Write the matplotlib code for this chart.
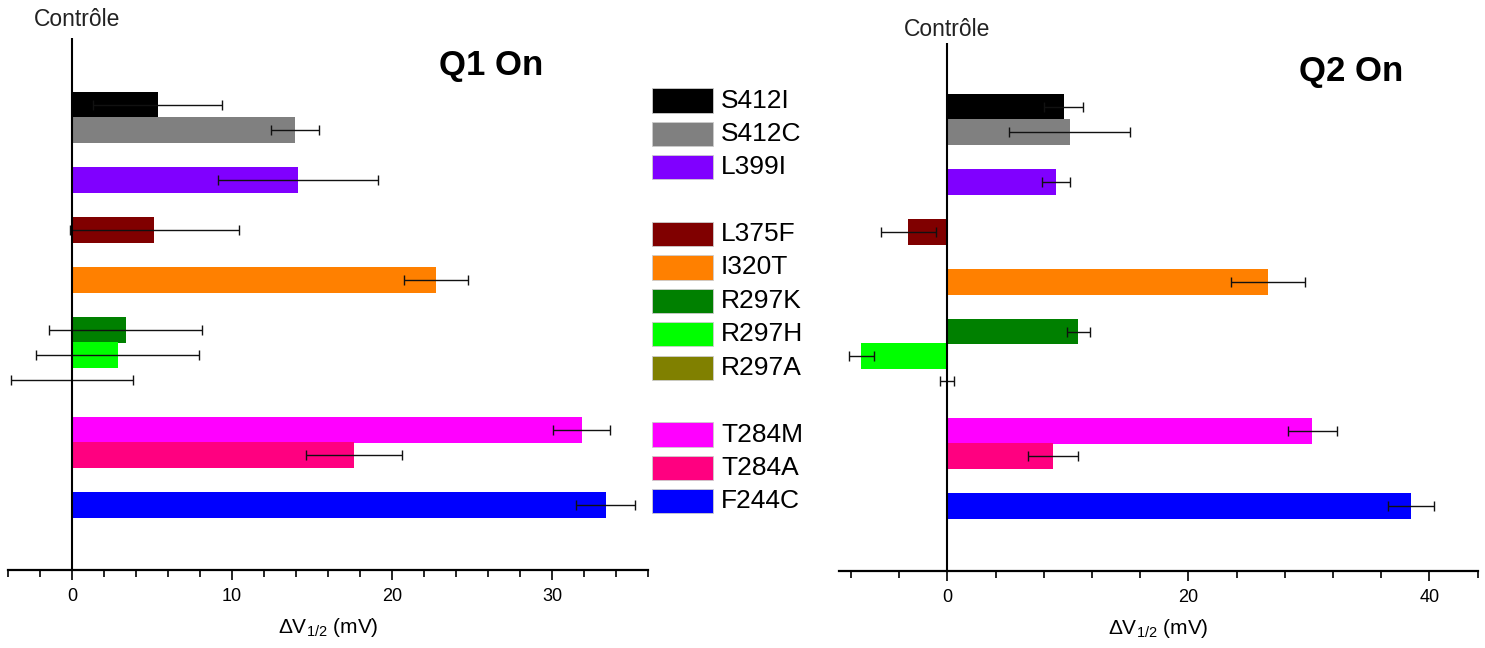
import numpy as np
import matplotlib
matplotlib.use('Agg')
import matplotlib.pyplot as plt
from matplotlib.ticker import MultipleLocator
from matplotlib.patches import Rectangle
import matplotlib.transforms as mtransforms

plt.rcParams['font.family'] = ['Liberation Sans', 'DejaVu Sans']
plt.rcParams['mathtext.fontset'] = 'custom'
plt.rcParams['mathtext.rm'] = 'Liberation Sans'
plt.rcParams['mathtext.default'] = 'regular'

# mutants, top to bottom
mutants = ['S412I', 'S412C', 'L399I', 'L375F', 'I320T', 'R297K', 'R297H',
           'R297A', 'T284M', 'T284A', 'F244C']
colors = ['#000000', '#808080', '#8000FF', '#800000', '#FF8000', '#008000',
          '#00FF00', '#808000', '#FF00FF', '#FF0080', '#0000FF']

# delta V1/2 (mV) and error
q1_values = [5.35, 13.95, 14.15, 5.15, 22.75, 3.35, 2.85, 0.0, 31.85, 17.65, 33.35]
q1_errors = [4.05, 1.5, 5.0, 5.3, 2.0, 4.8, 5.1, 3.8, 1.8, 3.0, 1.85]
q2_values = [9.65, 10.15, 9.0, -3.25, 26.6, 10.85, -7.15, -0.05, 30.3, 8.75, 38.5]
q2_errors = [1.6, 5.0, 1.15, 2.3, 3.1, 0.95, 1.05, 0.6, 2.0, 2.05, 1.9]

# how bars are grouped on the y axis, and how the legend is grouped
bar_groups = [2, 1, 1, 1, 3, 2, 1]
legend_groups = [3, 5, 3]


def slots(groups):
    pos = []
    n = 0
    for g in groups:
        for i in range(g):
            pos.append(n)
            n += 1
        n += 1
    return np.array(pos)


W, H = 1485, 648
fig = plt.figure(figsize=(W / 100, H / 100), dpi=100)

ax1 = fig.add_axes([8 / W, 1 - 570 / H, 640 / W, 532 / H])
ax2 = fig.add_axes([839 / W, 1 - 571 / H, 638.5 / W, 528 / H])

ypos = slots(bar_groups)


def draw_panel(ax, values, errors, xlim, major, minor, ylim, ctrl_x, ctrl_y):
    ax.barh(ypos, values, height=1.04, color=colors, edgecolor='none', zorder=2)
    ax.errorbar(values, ypos, xerr=errors, fmt='none', ecolor='#111111',
                elinewidth=1.0, capsize=3.4, capthick=1.0, zorder=3)
    ax.axvline(0, color='black', lw=1.5, zorder=4)
    ax.set_xlim(*xlim)
    ax.set_ylim(*ylim)
    for s in ['top', 'right', 'left']:
        ax.spines[s].set_visible(False)
    ax.spines['bottom'].set_linewidth(1.6)
    ax.set_yticks([])
    ax.xaxis.set_major_locator(MultipleLocator(major))
    ax.xaxis.set_minor_locator(MultipleLocator(minor))
    ax.tick_params(axis='x', which='major', length=7, width=1.2, labelsize=13,
                   pad=6, direction='out')
    ax.tick_params(axis='x', which='minor', length=5, width=1.2, direction='out')
    ax.set_xlabel('ΔV$_{1/2}$ (mV)', fontsize=15, labelpad=8)
    trans = mtransforms.blended_transform_factory(ax.transData, ax.transAxes)
    ax.text(ctrl_x, ctrl_y, 'Contrôle', transform=trans, ha='center', va='center',
            fontsize=16.5, color='#222222')


draw_panel(ax1, q1_values, q1_errors, (-4, 36), 10, 2, (18.6, -2.68), 0.3, 1.034)
draw_panel(ax2, q2_values, q2_errors, (-9, 44), 20, 4, (18.6, -2.565), 0.0, 1.0265)

fig.text(491 / W, 1 - 65 / H, 'Q1 On', fontsize=25, fontweight='bold',
         ha='center', va='center')
fig.text(1351 / W, 1 - 72 / H, 'Q2 On', fontsize=25, fontweight='bold',
         ha='center', va='center')

# legend drawn by hand (swatches + labels)
lrows = slots(legend_groups)
lax = fig.add_axes([652 / W, 1 - 518 / H, 180 / W, 434.2 / H])
lax.set_xlim(0, 180)
lax.set_ylim(12.5, -0.5)
lax.axis('off')
for name, c, r in zip(mutants, colors, lrows):
    lax.add_patch(Rectangle((0, r - 0.36), 61, 0.72, facecolor=c,
                            edgecolor='#cccccc', lw=0.6))
    lax.text(69, r, name, fontsize=19, va='center', ha='left')

fig.savefig('out.png', dpi=100)
